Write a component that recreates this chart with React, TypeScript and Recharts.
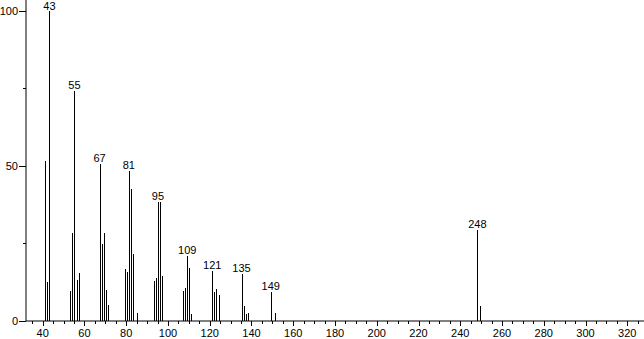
import { Bar, BarChart, LabelList, XAxis, YAxis } from "recharts";

// m/z and relative intensity
const mzValues = [
  41, 42, 43, 53, 54, 55, 56, 57, 67, 68, 69, 70, 71, 79, 80, 81, 82, 83, 85, 93, 94, 95, 96, 97,
  107, 108, 109, 110, 111, 121, 122, 123, 124, 135, 136, 137, 138, 149, 151, 248, 249,
];
const intensities = [
  51.6, 12.6, 100, 9.7, 28.5, 74, 13.2, 15.5, 50.6, 24.8, 28.5, 10, 5, 16.9, 15.8, 48.4, 42.6, 21.6,
  2.6, 12.9, 14, 38.4, 38.4, 14.5, 9.7, 10.8, 21, 17, 2.3, 16.1, 9.4, 10.3, 8.4, 15.3, 4.8, 2.3, 2.7,
  9.4, 2.6, 29.4, 4.8,
];
const labeledPeaks = [43, 55, 67, 81, 95, 109, 121, 135, 149, 248];

const xTicks = Array.from({ length: 59 }, (_, i) => 35 + i * 5);
const yTicks = [0, 25, 50, 75, 100];

const data = mzValues.map((mz, i) => ({
  mz,
  intensity: intensities[i],
  label: labeledPeaks.includes(mz) ? String(mz) : "",
}));

const font = "'Liberation Sans', Arial, sans-serif";

function XTick({ x, y, payload }: any) {
  const v = payload.value;
  const major = v % 20 === 0;
  const px = Math.round(x) + 0.5;
  return (
    <g>
      <line x1={px} x2={px} y1={y} y2={y + (major ? 5 : 3)} stroke="#000" />
      {major && (
        <text x={x} y={y + 16} textAnchor="middle" fontSize={11} fontFamily={font} fill="#000">
          {v}
        </text>
      )}
    </g>
  );
}

function YTick({ x, y, payload }: any) {
  const v = payload.value;
  const major = v % 50 === 0;
  const py = Math.round(y) + 0.5;
  return (
    <g>
      <line x1={x - (major ? 7 : 3)} x2={x} y1={py} y2={py} stroke="#000" />
      {major && (
        <text x={x - 8} y={y + 4} textAnchor="end" fontSize={11} fontFamily={font} fill="#000">
          {v}
        </text>
      )}
    </g>
  );
}

function Stick({ x, y, width, height }: any) {
  return (
    <rect x={Math.round(x + width / 2)} y={y} width={1} height={height} fill="#000" shapeRendering="crispEdges" />
  );
}

function PeakLabel({ x, y, width, value }: any) {
  if (!value) return null;
  // keep the top label inside the picture
  const ty = Math.max(y - 2, 10);
  return (
    <text x={x + width / 2} y={ty} textAnchor="middle" fontSize={11} fontFamily={font} fill="#000">
      {value}
    </text>
  );
}

export default function App() {
  return (
    <div style={{ position: "absolute", left: 0, top: 0, background: "#fff" }}>
      <BarChart width={644} height={339} data={data} margin={{ top: 0, right: 0, left: 0, bottom: 0 }}>
        <XAxis
          type="number"
          dataKey="mz"
          domain={[32, 328]}
          ticks={xTicks}
          interval={0}
          height={18}
          tickSize={0}
          tickMargin={0}
          tick={<XTick />}
          axisLine={{ stroke: "#000" }}
          tickLine={false}
        />
        <YAxis
          type="number"
          domain={[0, 103.5]}
          ticks={yTicks}
          interval={0}
          width={26}
          tickSize={0}
          tickMargin={0}
          tick={<YTick />}
          axisLine={{ stroke: "#000" }}
          tickLine={false}
        />
        <Bar dataKey="intensity" barSize={1} fill="#000" shape={<Stick />} isAnimationActive={false}>
          <LabelList dataKey="label" content={<PeakLabel />} />
        </Bar>
      </BarChart>
    </div>
  );
}
